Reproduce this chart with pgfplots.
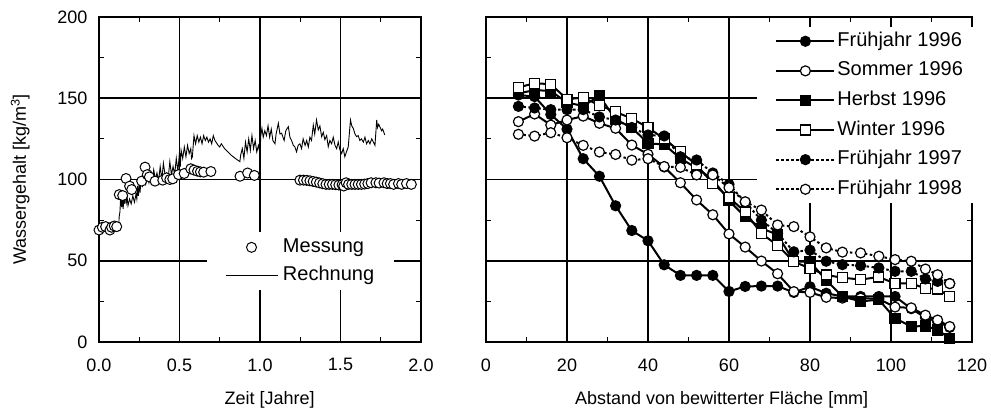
\documentclass[border=0pt]{standalone}
\usepackage{fontspec}
\setmainfont{Liberation Sans}
\usepackage{pgfplots}
\pgfplotsset{compat=1.18}

% x positions of the depth profiles [mm]
\pgfplotstableread{
x     f96   s96   h96   w96   f97   f98
8     152   135.6 153   156.6 145   127.8
12    151   140.3 155   159.3 144   126.7
16    140   133.5 154.5 158.6 143   128.8
20    131   136.6 147.3 149.4 143   125.7
24    112.8 139   145.3 150.4 143   121
28    102   134.6 151.4 145.7 138.5 116.9
32    83.8  131.5 137   141.6 136.6 115.4
36    68.6  121.2 131.9 137.5 132   111.9
40    62.3  115.5 122.3 132   127.4 112.8
44    47.5  107.7 121.5 125   126.8 108
48    41    98    113   117   114   107.5
52    41    87.4  107   109   112   102.8
56    41    78.3  100   97.5  104   102.8
60    31.1  66.5  87    89    97    95
64    34.2  58.4  77    80    86    86.3
68    34.4  49.8  70    66.7  75    81.2
72    34.4  42    66    59.5  67    72
76    30.5  31    49.4  49.4  55.5  71
80    34    30.5  49.4  45.3  56.5  64.7
84    30    27.5  38    41.2  49.7  57.9
88    28    27    28    39.6  47.6  55.3
92.5  28    27    25    38.4  47    54.8
97    28    26.5  26    40    45.6  52.8
101   28    21.5  14.6  36    43.5  50.7
105   20.5  21    9.5   36    43.5  49.7
108.5 15    16.5  9.9   33    38.8  44.9
111.5 12.5  13.5  7.4   32.6  37.3  41.4
114.5 9     9.5   2.3   28    36    35.9
}\profiles

\pgfplotsset{
  panel/.style={
    scale only axis, height=325pt,
    font=\fontsize{18}{21}\selectfont,
    axis line style={line width=2.2pt},
    grid=major, major grid style={black, line width=1.6pt},
    minor tick num=1, tick align=inside,
    major tick length=0pt, minor tick length=5pt,
    minor tick style={black, line width=1pt},
    ymin=0, ymax=200, ytick={0,50,...,200},
    /pgf/number format/assume math mode=true,
    xticklabel style={yshift=-13pt},
    yticklabel style={xshift=-8pt},
    clip=false,
    legend cell align=left,
  },
  longleg/.style={legend image code/.code={
    \draw[mark repeat=2,mark phase=2,##1] plot coordinates {(0pt,0pt) (29pt,0pt) (58pt,0pt)};}},
  shortleg/.style={legend image code/.code={
    \draw[mark repeat=2,mark phase=2,##1] plot coordinates {(0pt,0pt) (26pt,0pt) (52pt,0pt)};}},
  prof/.style={black, line width=2pt, mark size=5pt,
    mark options={solid, line width=1.2pt, draw=black, fill=#1}, longleg},
  dots/.style={dash pattern=on 2.5pt off 2.5pt},
}

\begin{document}
\begin{tikzpicture}
\path[use as bounding box] (0pt,0pt) rectangle (991pt,414pt);

\begin{axis}[panel,
  at={(99pt,72pt)}, anchor=south west, width=322pt,
  xmin=0, xmax=2, xtick={0,0.5,...,2},
  xticklabel style={/pgf/number format/.cd, fixed, fixed zerofill, precision=1},
  xlabel={Zeit [Jahre]},
  ylabel={Wassergehalt [kg/m\textsuperscript{3}]},
  xlabel style={at={(axis description cs:0.53,-0.178)}, anchor=center},
  ylabel style={at={(axis description cs:-0.245,0.5)}, anchor=center},
  reverse legend,
  legend style={at={(axis description cs:0.335,0.338)}, anchor=north west,
    draw=none, fill=white, inner xsep=18pt, inner ysep=4pt,
    font=\fontsize{20}{22}\selectfont,
    row sep=6pt, column sep=3pt,
    nodes={inner sep=2pt, text height=14pt, text depth=4pt}},
]
% Rechnung
\addplot[black, line width=0.9pt, shortleg] coordinates {
(0.0,69) (0.02,69.5) (0.05,70) (0.08,69) (0.1,68.5) (0.122,68.5) (0.125,77) (0.13,80)
(0.135,90) (0.14,83) (0.145,88) (0.15,82) (0.155,90) (0.16,85) (0.165,92) (0.17,86)
(0.175,89) (0.18,84) (0.19,88) (0.2,85) (0.21,90) (0.22,86) (0.23,91) (0.235,88)
(0.24,96) (0.245,90) (0.25,97) (0.255,92) (0.26,99) (0.27,96) (0.28,100) (0.29,97)
(0.3,102) (0.31,98) (0.32,103) (0.33,99) (0.34,106) (0.35,100) (0.36,104) (0.37,99)
(0.38,108) (0.39,100) (0.4,110) (0.41,103) (0.42,104) (0.43,101) (0.44,111) (0.45,103)
(0.46,108) (0.47,103) (0.48,113) (0.49,105) (0.5,117) (0.505,108) (0.51,118) (0.52,113)
(0.53,120) (0.54,114) (0.55,121) (0.56,116) (0.57,119) (0.575,113) (0.58,114) (0.59,127)
(0.6,122) (0.61,127) (0.62,123) (0.63,126) (0.64,122) (0.65,127) (0.66,124) (0.67,126)
(0.68,123) (0.69,125) (0.7,122) (0.71,127) (0.72,124) (0.74,121) (0.75,120) (0.76,122)
(0.78,119) (0.8,117) (0.82,115) (0.84,113.5) (0.86,112) (0.875,111) (0.88,115) (0.89,119)
(0.9,113) (0.91,123) (0.92,117) (0.93,125) (0.94,118) (0.95,127) (0.96,119) (0.97,124)
(0.98,117) (0.99,121) (1.0,116) (1.005,127) (1.012,131.5) (1.02,126) (1.03,130) (1.04,127)
(1.05,133) (1.06,126) (1.07,131) (1.08,124) (1.093,122) (1.1,128) (1.114,134.6) (1.124,128)
(1.134,128.5) (1.15,124) (1.16,130) (1.176,132.5) (1.186,126) (1.196,124) (1.207,121) (1.217,120)
(1.227,117) (1.237,121) (1.248,122) (1.258,119) (1.268,125) (1.28,121) (1.29,124) (1.3,120)
(1.31,126) (1.32,124) (1.331,133.5) (1.34,128) (1.351,136.6) (1.362,130.5) (1.372,133) (1.383,126.4)
(1.393,129) (1.403,124.5) (1.414,127) (1.424,120.2) (1.434,124) (1.445,122) (1.455,126) (1.466,121)
(1.476,119) (1.486,123) (1.497,118) (1.507,116) (1.517,119) (1.527,114) (1.537,117) (1.548,120)
(1.562,136.6) (1.57,133) (1.579,131.5) (1.59,128) (1.6,126.4) (1.61,127) (1.62,124) (1.63,125)
(1.642,123) (1.652,126) (1.662,122) (1.673,124) (1.683,122) (1.694,125) (1.704,123) (1.714,121)
(1.725,136.6) (1.73,132) (1.737,134) (1.749,131.5) (1.755,130) (1.762,131) (1.775,127.4)
};
\addlegendentry{Rechnung}
% Messung
\addplot[only marks, mark=*, mark size=5pt, mark options={fill=white, draw=black, line width=1pt}, shortleg] coordinates {
(0,68.9) (0.021,70.6) (0.041,71) (0.068,68.9) (0.078,70.6) (0.095,71.4) (0.11,71)
(0.126,90.7) (0.147,90.1) (0.168,100.6) (0.19,95.9) (0.203,93.8) (0.265,99) (0.286,107.6)
(0.3,103) (0.313,101.6) (0.348,99) (0.396,99.6) (0.42,101) (0.44,100) (0.458,100.4)
(0.494,103) (0.529,103.7) (0.57,106.6) (0.59,105.8) (0.612,105.1) (0.63,104.7) (0.65,104.5)
(0.695,104.9) (0.876,102) (0.923,104) (0.965,102.5)
(1.248,99.6) (1.27,99.6) (1.29,99.5) (1.31,99.2) (1.33,98.8) (1.35,98.4) (1.37,97.9)
(1.39,97.4) (1.41,97) (1.43,97) (1.45,97) (1.47,96.8) (1.49,96.6) (1.51,96.8) (1.52,96)
(1.535,98) (1.55,97) (1.57,97) (1.59,97) (1.61,97) (1.63,97) (1.65,97.2) (1.67,97.5)
(1.69,98) (1.72,98) (1.74,97.8) (1.77,98) (1.79,97.5) (1.81,97.5) (1.83,97) (1.86,97.5)
(1.88,97) (1.91,97.5) (1.94,97)
};
\addlegendentry{Messung}
\end{axis}

\begin{axis}[panel,
  at={(486pt,72pt)}, anchor=south west, width=486pt,
  xmin=0, xmax=120, xtick={0,20,...,120},
  yticklabels={},
  xlabel={Abstand von bewitterter Fläche [mm]},
  xlabel style={at={(axis description cs:0.485,-0.178)}, anchor=center},
  legend style={at={(axis description cs:0.558,0.969)}, anchor=north west,
    draw=none, fill=white, inner xsep=18pt, inner ysep=3pt,
    font=\fontsize{20}{22}\selectfont,
    row sep=7.6pt, column sep=0pt,
    nodes={inner sep=2pt, text height=14pt, text depth=4pt}},
]
\addplot[prof=black, mark=*] table[x=x, y=f96] {\profiles};
\addlegendentry{Frühjahr 1996}
\addplot[prof=white, mark=*] table[x=x, y=s96] {\profiles};
\addlegendentry{Sommer 1996}
\addplot[prof=black, mark=square*] table[x=x, y=h96] {\profiles};
\addlegendentry{Herbst 1996}
\addplot[prof=white, mark=square*] table[x=x, y=w96] {\profiles};
\addlegendentry{Winter 1996}
\addplot[prof=black, dots, mark=*] table[x=x, y=f97] {\profiles};
\addlegendentry{Frühjahr 1997}
\addplot[prof=white, dots, mark=*] table[x=x, y=f98] {\profiles};
\addlegendentry{Frühjahr 1998}
\end{axis}
\end{tikzpicture}
\end{document}
